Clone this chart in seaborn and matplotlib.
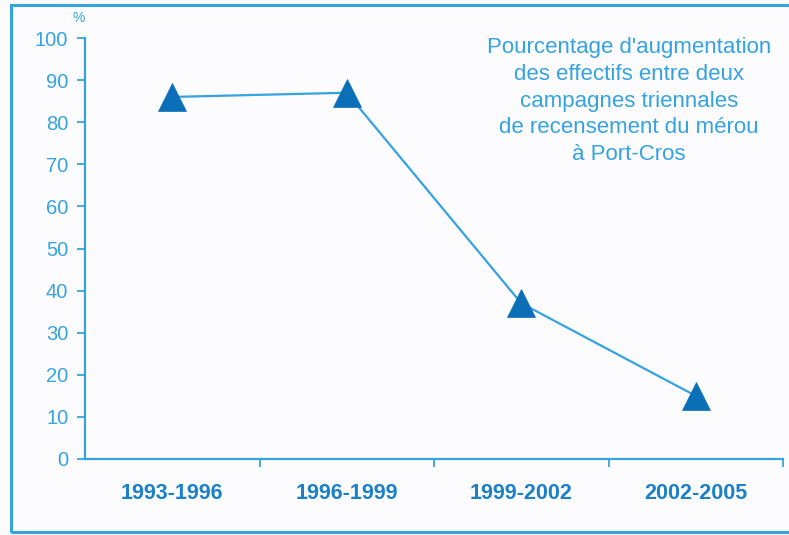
import matplotlib
matplotlib.use("Agg")
import matplotlib.pyplot as plt
import seaborn as sns
from matplotlib.patches import Rectangle

periods = ["1993-1996", "1996-1999", "1999-2002", "2002-2005"]
increase_pct = [86, 87, 37, 15]
y_ticks = list(range(0, 101, 10))

light_blue = "#35a3e0"
dark_blue = "#0b6fb8"
label_blue = "#1a80c8"
bg = "#fcfbfe"

sns.set_theme(style="white")
plt.rcParams["font.family"] = ["Liberation Sans", "DejaVu Sans"]

fig = plt.figure(figsize=(7.89, 5.35), dpi=100, facecolor=bg)
ax = fig.add_axes([85 / 789, 1 - 459 / 535, 698 / 789, 421 / 535])
ax.set_facecolor(bg)

sns.lineplot(x=periods, y=increase_pct, ax=ax, color=light_blue, linewidth=1.6,
             marker="^", markersize=20, markerfacecolor=dark_blue,
             markeredgecolor=dark_blue, markeredgewidth=0.5)

ax.set_xlim(-0.5, 3.5)
ax.set_ylim(0, 100)
ax.set_yticks(y_ticks)
ax.set_xticks(range(len(periods)))
ax.set_xticklabels(periods, fontsize=15.5, fontweight="bold", color=label_blue)
ax.set_xticks([0.5, 1.5, 2.5, 3.5], minor=True)
ax.tick_params(axis="x", which="major", length=0, pad=17)
ax.tick_params(axis="x", which="minor", length=6, width=1.3, color=light_blue,
               direction="out", bottom=True)
ax.tick_params(axis="y", length=6, width=1.3, color=light_blue, labelsize=14.5,
               labelcolor=light_blue, left=True, pad=6)
for side in ["top", "right"]:
    ax.spines[side].set_visible(False)
for side in ["left", "bottom"]:
    ax.spines[side].set_color(light_blue)
    ax.spines[side].set_linewidth(1.6)
ax.set_xlabel("")
ax.set_ylabel("")

fig.text(79 / 789, 1 - 18 / 535, "%", fontsize=10, color=light_blue,
         ha="center", va="center")
fig.text(629 / 789, 1 - 37 / 535,
         "Pourcentage d'augmentation\ndes effectifs entre deux\ncampagnes triennales\n"
         "de recensement du mérou\nà Port-Cros",
         fontsize=16, color=light_blue, ha="center", va="top", linespacing=1.36)

fig.patches.append(Rectangle((11 / 789, 1 - 532 / 535), 1, 527 / 535,
                             transform=fig.transFigure, fill=False,
                             edgecolor=light_blue, linewidth=2.2))

fig.savefig("out.png", dpi=100, facecolor=bg)
